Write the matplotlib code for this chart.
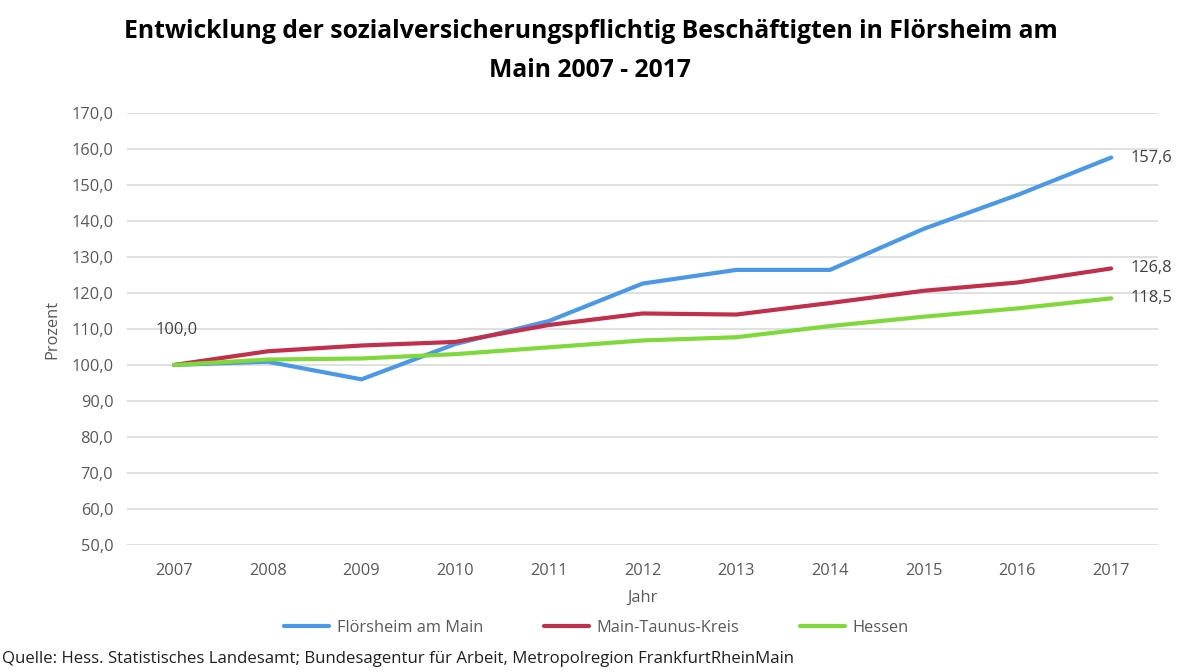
import matplotlib.pyplot as plt
from matplotlib.ticker import FuncFormatter

plt.rcParams['font.family'] = ['Open Sans', 'DejaVu Sans']

years = [2007, 2008, 2009, 2010, 2011, 2012, 2013, 2014, 2015, 2016, 2017]
floersheim = [100.0, 100.9, 96.0, 105.8, 112.2, 122.6, 126.4, 126.4, 137.8, 147.2, 157.6]
mtk = [100.0, 103.8, 105.4, 106.4, 111.1, 114.3, 114.0, 117.2, 120.6, 122.9, 126.8]
hessen = [100.0, 101.5, 101.8, 103.0, 104.9, 106.8, 107.7, 110.8, 113.4, 115.7, 118.5]

series = [
    ('Flörsheim am Main', floersheim, '#4a98e6'),
    ('Main-Taunus-Kreis', mtk, '#c0304c'),
    ('Hessen', hessen, '#80d93a'),
]

fs = 11.8

fig = plt.figure(figsize=(12, 6.72), dpi=100)
ax = fig.add_axes([0.106, 0.189, 0.859, 0.643])

for name, vals, col in series:
    ax.plot(years, vals, color=col, lw=3, label=name, solid_capstyle='round')

# data labels
ax.annotate('100,0', (years[0], floersheim[0]), xytext=(2, 25), ha='center', va='center',
            textcoords='offset points', fontsize=fs, color='#404040')
for name, vals, col in series:
    ax.annotate(f'{vals[-1]:.1f}'.replace('.', ','), (years[-1], vals[-1]),
                xytext=(14, 0), textcoords='offset points',
                fontsize=fs, color='#404040', va='center')

ax.set_xlim(2006.5, 2017.5)
ax.set_ylim(50, 170)
ax.set_xticks(years)
ax.set_yticks(range(50, 171, 10))
ax.yaxis.set_major_formatter(FuncFormatter(lambda v, p: f'{v:.1f}'.replace('.', ',')))
ax.grid(axis='y', color='#d9dcdc', lw=1.2)
ax.set_axisbelow(True)
for s in ax.spines.values():
    s.set_visible(False)
ax.tick_params(length=0, labelsize=fs, colors='#595959', pad=10)
ax.tick_params(axis='x', pad=13)

ax.set_xlabel('Jahr', fontsize=fs, color='#595959', labelpad=8)
ax.set_ylabel('Prozent', fontsize=fs, color='#595959', labelpad=8)

fig.suptitle('Entwicklung der sozialversicherungspflichtig Beschäftigten in Flörsheim am\nMain 2007 - 2017',
             x=0.492, y=0.972, fontsize=17.8, fontweight='bold', linespacing=1.75)

fig.legend(*ax.get_legend_handles_labels(), loc='center', bbox_to_anchor=(0.497, 0.066),
           ncol=3, frameon=False, fontsize=fs, handlelength=2.75, handletextpad=0.45,
           columnspacing=3.7, labelcolor='#595959')

fig.text(0.002, 0.020, 'Quelle: Hess. Statistisches Landesamt; Bundesagentur für Arbeit, Metropolregion FrankfurtRheinMain',
         fontsize=12.1, color='#202020', va='center')

fig.savefig('out.png', dpi=100)
